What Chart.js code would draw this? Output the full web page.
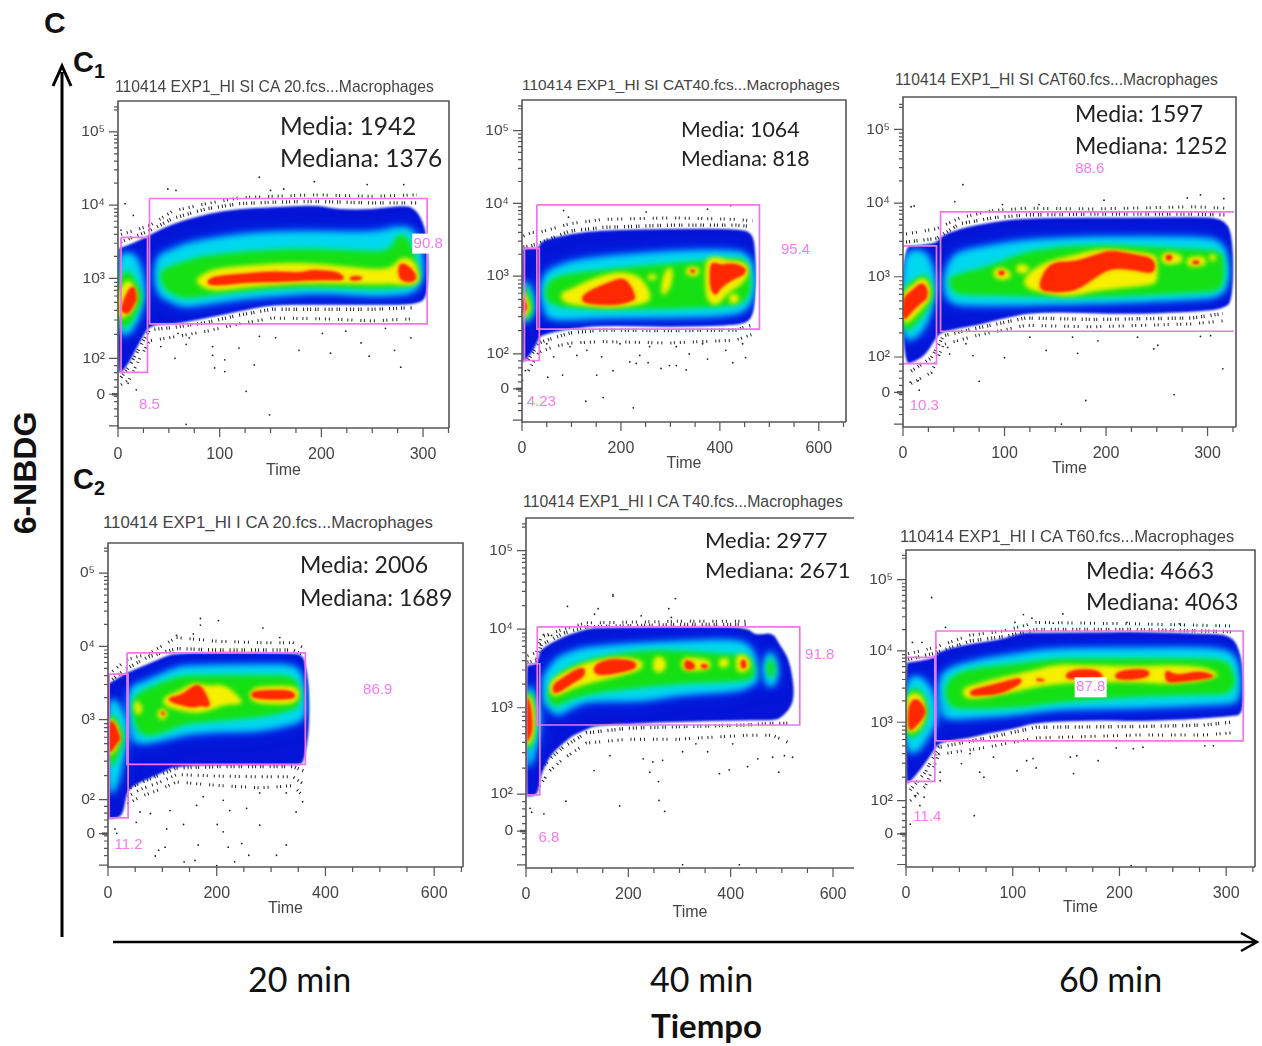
<!DOCTYPE html>
<html>
<head>
<meta charset="utf-8">
<title>6-NBDG</title>
<script src="https://cdn.jsdelivr.net/npm/chart.js@4"></script>
<style>
    html, body { margin: 0; background: #fff; }
    #figure { position: relative; width: 1262px; height: 1046px; overflow: hidden; background: #fff; }
    #figure canvas { position: absolute; filter: blur(0.4px); }
    .note { position: absolute; white-space: nowrap; transform: translateY(-50%); line-height: 1; }
    .plot-title { font-family: "Liberation Sans", Arial, sans-serif; color: #444; }
    .stat { font-family: Lato, sans-serif; color: #222; }
    .head { font-family: "Liberation Sans", Arial, sans-serif; font-weight: bold; color: #111; }
    .time { font-family: Lato, sans-serif; color: #111; }
    sub { font-size: 0.68em; line-height: 0; }
    svg { position: absolute; left: 0; top: 0; }
</style>
</head>
<body>
<div id="figure">
    <svg width="1262" height="1046">
        <path d="M62 937V72M53 86L62 66L71 86" fill="none" stroke="#000" stroke-width="3"/>
        <path d="M113 942H1256M1241 933L1257 942L1241 951" fill="none" stroke="#000" stroke-width="2.5"/>
    </svg>
    <div class="note head" style="left:44px;top:23px;font-size:30px">C</div>
    <div class="note head" style="left:73px;top:62px;font-size:29px">C<sub>1</sub></div>
    <div class="note head" style="left:73px;top:479px;font-size:29px">C<sub>2</sub></div>
    <div class="note head" style="left:25px;top:473px;font-size:32px;transform:translate(-50%,-50%) rotate(-90deg)">6-NBDG</div>
    <div class="note time" style="left:248px;top:979px;font-size:34px">20 min</div>
    <div class="note time" style="left:650px;top:979px;font-size:34px">40 min</div>
    <div class="note time" style="left:1059px;top:979px;font-size:34px">60 min</div>
    <div class="note time" style="left:651px;top:1025px;font-size:33px;font-weight:bold">Tiempo</div>
</div>
<script>
const plotTitles = [
    '110414 EXP1_HI SI CA 20.fcs...Macrophages',
    '110414 EXP1_HI SI CAT40.fcs...Macrophages',
    '110414 EXP1_HI SI CAT60.fcs...Macrophages',
    '110414 EXP1_HI I CA 20.fcs...Macrophages',
    '110414 EXP1_HI I CA T40.fcs...Macrophages',
    '110414 EXP1_HI I CA T60.fcs...Macrophages'
];
const mediaValues = [1942, 1064, 1597, 2006, 2977, 4663];
const medianaValues = [1376, 818, 1252, 1689, 2671, 4063];

const xTicks300 = [0, 100, 200, 300];
const xTicks600 = [0, 200, 400, 600];
const yLabelsFull = ['0', '10²', '10³', '10⁴', '10⁵'];
const yLabelsCut = ['0', '0²', '0³', '0⁴', '0⁵'];

// y values are axis decades: 3 = 10^3, 4 = 10^4, ... the part below 10^3 is biexponential
// density rows: [time, upper edge, lower edge]
const p1YTicks = [1.42, 1.91, 3, 4, 5];
const p1Blue = [[[0,3.41,1.71],[3,3.42,1.71],[11,3.46,1.85],[21,3.52,2.12],[31,3.59,2.37],[54,3.75,2.37],[87,3.88,2.46],[119,3.95,2.55],[152,3.97,2.64],[194,4.0,2.64],[217,3.94,2.64],[250,3.94,2.64],[283,4.0,2.64],[294,3.93,2.66],[302,3.7,2.71],[305,3.38,2.93]]];
const p1Cyan = [
    [[37,3.3,2.8],[54,3.38,2.68],[64,3.45,2.62],[87,3.52,2.66],[119,3.59,2.73],[152,3.62,2.77],[200,3.63,2.82],[250,3.61,2.77],[277,3.7,2.79],[292,3.66,2.82],[299,3.3,3.0]],
    [[0,3.3,2.3],[8,3.35,2.2],[18,3.3,2.4],[25,3.0,2.7]]
];
const p1Green = [
    [[42,3.08,3.0],[46,3.14,2.84],[64,3.22,2.73],[80,3.29,2.75],[119,3.36,2.83],[185,3.41,2.9],[250,3.36,2.86],[268,3.38,2.87],[275,3.61,2.88],[286,3.57,2.89],[296,3.07,2.98]],
    [[0,3.0,2.35],[10,3.13,2.33],[18,2.95,2.55],[23,2.78,2.7]]
];
const p1Yellow = [
    [[78,3.0,2.93],[93,3.12,2.83],[130,3.17,2.9],[185,3.21,2.95],[250,3.11,2.93],[270,3.13,2.94],[278,3.28,2.92],[290,3.25,2.92],[295,3.08,2.96]],
    [[0,2.8,2.45],[10,3.0,2.5],[17,2.85,2.65]]
];
const p1Red = [
    [[88,2.97,2.93],[95,3.03,2.9],[130,3.07,2.95],[155,3.1,2.95],[180,3.07,2.97],[190,3.12,2.98],[215,3.09,2.98],[222,3.03,2.98]],
    [[228,3.03,2.97],[240,3.03,2.98]],
    [[276,3.2,3.0],[283,3.2,2.95],[293,3.07,2.96]],
    [[3,2.6,2.55],[10,2.85,2.5],[16,2.9,2.65],[18,2.78,2.7]]
];
const p1FringeTop = [[3,3.5,3.6],[31,3.65,3.72],[54,3.82,3.92],[87,3.95,4.02],[119,4.02,4.1],[152,4.04,4.12],[194,4.05,4.14],[250,4.03,4.12],[294,4.03,4.14]];
const p1FringeLow = [[3,1.65,1.55],[11,1.8,1.62],[21,2.05,1.9],[31,2.3,2.15],[54,2.33,2.2],[87,2.4,2.28],[119,2.5,2.38],[152,2.58,2.46],[200,2.58,2.45],[250,2.58,2.42],[290,2.6,2.45]];
const p1Dots = [[139,4.38],[193,4.32],[245,4.28],[281,4.28],[49,4.22],[57,4.2],[7,4.02],[150,4.2],[163,4.22],[15,3.86],[3,3.66],[139,2.21],[155,2.19],[201,2.25],[224,2.28],[178,2.02],[209,1.98],[247,1.94],[272,2.02],[278,1.79],[288,2.19],[239,2.12],[93,1.95],[105,1.89],[95,1.78],[105,1.73],[119,2.05],[134,1.82],[126,1.46],[149,1.14],[67,1.01],[56,1.91],[42,2.07],[67,2.1],[93,2.07],[59,2.25],[70,2.19],[18,1.48],[10,1.57],[263,2.32]];
const p1Gates = [[[31,4.09],[304,4.09],[304,2.38],[31,2.38],[31,4.09]], [[3,3.56],[29,3.56],[29,1.72],[3,1.72],[3,3.56]]];
const p1GateLabels = [[305,3.475,'90.8',true],[31,1.28,'8.5',false]];

const p2YTicks = [1.45, 1.93, 3, 4, 5];
const p2Blue = [[[0,3.37,1.82],[3,3.375,1.82],[13,3.38,1.89],[23,3.385,1.98],[34,3.39,2.14],[40,3.49,2.19],[97,3.58,2.28],[164,3.63,2.32],[298,3.65,2.3],[432,3.65,2.32],[466,3.6,2.39],[472,3.35,2.76]]];
const p2Cyan = [
    [[40,2.9,2.7],[50,3.05,2.44],[64,3.1,2.42],[97,3.19,2.41],[164,3.26,2.44],[298,3.33,2.44],[432,3.35,2.47],[462,3.26,2.6],[469,2.99,2.9]],
    [[0,2.95,2.35],[12,2.9,2.38],[22,2.72,2.5]]
];
const p2Green = [
    [[48,2.85,2.7],[64,2.98,2.6],[97,3.03,2.57],[164,3.08,2.55],[298,3.17,2.55],[432,3.24,2.6],[452,3.22,2.67],[462,2.94,2.8]],
    [[0,2.9,2.38],[12,2.8,2.42],[20,2.6,2.55]]
];
const p2Yellow = [
    [[80,2.77,2.68],[97,2.8,2.62],[130,2.92,2.6],[164,3.0,2.58],[198,3.05,2.58],[235,3.0,2.62],[252,2.85,2.65],[258,2.75,2.68]],
    [[255,3.0,2.96],[262,3.03,2.95],[272,3.0,2.97]],
    [[283,2.92,2.72],[295,3.12,2.8],[303,3.1,2.95]],
    [[332,3.1,3.03],[348,3.12,3.0],[358,3.1,3.04]],
    [[372,3.2,2.75],[382,3.25,2.62],[397,3.25,2.62],[415,3.2,2.78],[436,3.2,2.85],[456,3.15,3.0]],
    [[420,2.75,2.65],[428,2.75,2.62],[438,2.72,2.67]],
    [[0,2.8,2.42],[8,2.72,2.46],[14,2.58,2.54]]
];
const p2Red = [
    [[122,2.72,2.65],[137,2.8,2.62],[178,2.92,2.6],[205,2.98,2.62],[222,2.85,2.66],[228,2.72,2.68]],
    [[380,3.18,2.82],[392,3.18,2.72],[402,3.15,2.85],[425,3.18,2.95],[452,3.12,3.03]],
    [[340,3.09,3.05],[350,3.09,3.04]],
    [[0,2.71,2.48],[5,2.68,2.5],[10,2.58,2.56]]
];
const p2FringeTop = [[3,3.4,3.55],[20,3.42,3.6],[34,3.45,3.6],[97,3.62,3.72],[164,3.67,3.78],[298,3.7,3.8],[432,3.7,3.78],[466,3.68,3.76]];
const p2FringeLow = [[13,1.85,1.7],[34,2.08,1.95],[60,2.14,2.02],[97,2.22,2.08],[164,2.26,2.1],[298,2.25,2.08],[432,2.26,2.12],[466,2.33,2.2]];
const p2Dots = [[84,3.9],[94,3.81],[422,3.97],[375,3.92],[251,3.88],[52,1.61],[82,1.64],[129,1.28],[164,1.33],[225,1.19],[218,1.82],[231,1.8],[255,1.81],[281,1.73],[298,1.77],[312,1.77],[332,1.71],[184,1.7],[151,1.64],[161,1.89],[111,1.91],[64,1.89],[375,1.86],[426,1.81],[452,1.88],[412,1.98],[338,1.93],[258,2.03],[198,2.07],[131,1.98],[97,2.03],[50,2.07],[312,2.03],[365,2.07],[446,2.07],[238,1.91],[1,1.57],[7,1.7]];
const p2Gates = [[[30,3.98],[480,3.98],[480,2.27],[30,2.27],[30,3.98]], [[5,3.38],[35,3.38],[35,1.84],[5,1.84],[5,3.38]]];
const p2GateLabels = [[553,3.36,'95.4',false],[39,1.27,'4.23',false]];

const p3YTicks = [1.43, 1.91, 3, 4, 5];
const p3Blue = [[[0,3.41,1.79],[13,3.42,1.86],[23,3.44,1.95],[33,3.46,2.18],[38,3.56,2.25],[56,3.65,2.3],[72,3.7,2.34],[89,3.74,2.4],[105,3.77,2.45],[121,3.79,2.5],[154,3.8,2.52],[220,3.8,2.49],[285,3.81,2.52],[315,3.8,2.56],[325,3.58,2.67]]];
const p3Cyan = [
    [[41,3.05,2.75],[49,3.26,2.65],[56,3.33,2.63],[89,3.42,2.62],[121,3.49,2.63],[187,3.53,2.65],[285,3.53,2.7],[315,3.49,2.74],[320,3.13,3.0]],
    [[0,3.3,2.1],[15,3.37,2.2],[25,3.28,2.42],[31,3.0,2.8]]
];
const p3Green = [
    [[46,3.0,2.88],[51,3.0,2.79],[56,3.04,2.76],[89,3.15,2.75],[121,3.35,2.74],[187,3.44,2.72],[285,3.37,2.79],[313,3.35,2.81],[316,3.22,3.0]],
    [[0,2.85,2.22],[12,2.95,2.35],[22,3.05,2.52],[29,2.85,2.72]]
];
const p3Yellow = [
    [[90,3.1,3.0],[98,3.12,2.96],[106,3.05,3.0]],
    [[112,3.14,3.07],[118,3.17,3.05],[124,3.12,3.08]],
    [[120,3.0,2.86],[141,3.2,2.78],[165,3.27,2.74],[187,3.35,2.81],[203,3.37,2.84],[246,3.3,2.9],[250,3.25,2.95]],
    [[255,3.3,3.2],[262,3.33,3.17],[275,3.28,3.2]],
    [[280,3.25,3.15],[290,3.27,3.15],[298,3.25,3.17]],
    [[302,3.3,3.22],[308,3.3,3.22]],
    [[0,2.78,2.33],[10,2.88,2.45],[20,3.0,2.6],[26,2.88,2.7]]
];
const p3Red = [
    [[135,2.95,2.82],[145,3.2,2.79],[170,3.2,2.8],[190,3.3,3.0],[205,3.36,3.12],[228,3.3,3.1],[248,3.25,3.03]],
    [[285,3.22,3.17],[292,3.22,3.17]],
    [[259,3.3,3.22],[265,3.3,3.22]],
    [[94,3.08,3.02],[100,3.08,3.02]],
    [[0,2.72,2.38],[8,2.8,2.52],[18,2.93,2.65],[24,2.85,2.7]]
];
const p3FringeTop = [[3,3.47,3.58],[33,3.52,3.65],[56,3.72,3.8],[89,3.8,3.9],[121,3.84,3.93],[187,3.85,3.92],[285,3.85,3.95],[318,3.84,3.93]];
const p3FringeLow = [[8,1.72,1.55],[28,1.9,1.7],[40,2.2,2.08],[72,2.3,2.2],[121,2.44,2.34],[187,2.42,2.32],[285,2.44,2.36],[315,2.5,2.4]];
const p3Dots = [[59,4.25],[51,4.02],[11,3.96],[8,3.95],[198,4.04],[293,4.11],[316,4.06],[280,4.07],[98,3.98],[134,3.98],[100,1.9],[141,2.0],[172,1.96],[247,2.02],[251,2.07],[315,1.75],[267,1.4],[180,1.32],[75,1.58],[156,1.0],[69,1.93],[46,1.95],[44,2.04],[62,2.09],[192,2.13],[167,2.18],[231,2.18],[293,2.19],[303,2.2],[125,2.18],[16,1.46],[7,1.57],[15,1.59]];
const p3Gates = [[[326,3.88],[37,3.88],[37,2.26],[326,2.26]], [[0,3.42],[33,3.42],[33,1.82],[0,1.82]]];
const p3GateLabels = [[184,4.47,'88.6',false],[21,1.25,'10.3',false]];

const p4YTicks = [1.445, 1.91, 3, 4, 5];
const p4Blue = [[[0,3.5,1.65],[4,3.5,1.65],[26,3.6,1.67],[32,3.63,1.9],[38,3.65,2.08],[96,3.83,2.26],[126,3.92,2.38],[340,3.91,2.38],[356,3.88,2.38],[362,3.81,2.49],[370,3.45,2.85]]];
const p4Cyan = [
    [[38,3.3,2.85],[44,3.45,2.72],[65,3.5,2.67],[126,3.7,2.78],[145,3.72,2.81],[206,3.73,2.85],[279,3.74,2.85],[340,3.74,2.95],[356,3.63,2.99],[362,3.26,3.1]],
    [[0,3.25,1.95],[14,3.28,2.05],[26,3.1,2.4],[34,2.95,2.8]]
];
const p4Green = [
    [[46,3.25,3.08],[53,3.35,2.85],[78,3.44,2.76],[126,3.58,2.9],[145,3.6,2.95],[206,3.6,2.99],[279,3.6,3.04],[340,3.6,3.13],[352,3.45,3.2]],
    [[0,3.05,2.35],[12,3.06,2.4],[22,2.9,2.6],[28,2.8,2.7]]
];
const p4Yellow = [
    [[50,3.25,3.1],[56,3.25,3.07],[62,3.15,3.12]],
    [[93,3.12,3.03],[100,3.15,3.0],[108,3.1,3.05]],
    [[103,3.3,3.2],[130,3.37,3.14],[157,3.5,3.1],[180,3.45,3.12],[215,3.47,3.22],[240,3.3,3.22],[245,3.25,3.22]],
    [[262,3.42,3.25],[300,3.45,3.22],[340,3.45,3.22],[350,3.4,3.3]],
    [[0,3.0,2.5],[10,3.0,2.55],[20,2.82,2.7]]
];
const p4Red = [
    [[112,3.3,3.25],[135,3.33,3.2],[158,3.47,3.16],[170,3.47,3.2],[180,3.35,3.17],[187,3.22,3.19]],
    [[264,3.38,3.3],[290,3.4,3.28],[330,3.4,3.28],[344,3.36,3.3]],
    [[98,3.12,3.07],[104,3.1,3.05]],
    [[1,2.98,2.52],[10,2.98,2.6],[18,2.85,2.7],[22,2.75,2.72]]
];
const p4FringeTop = [[8,3.55,3.66],[35,3.7,3.82],[75,3.86,3.9],[126,3.97,4.12],[200,3.95,4.07],[280,3.95,4.05],[340,3.95,4.05],[360,3.88,3.98]];
const p4FringeLow = [[36,2.05,1.85,1.95],[60,2.14,1.95,2.05],[96,2.25,2.05,2.15],[126,2.34,2.15,2.25],[206,2.36,2.1,2.23],[280,2.36,2.07,2.22],[340,2.36,2.1,2.22],[360,2.3,1.95,2.12]];
const p4Dots = [[170,4.38],[170,4.29],[203,4.35],[285,4.25],[316,4.12],[126,4.15],[157,4.17],[52,1.6],[108,1.51],[139,1.57],[201,1.57],[212,1.47],[279,1.56],[93,1.22],[87,1.14],[105,1.26],[140,1.06],[160,1.08],[166,1.29],[221,1.26],[233,1.06],[246,1.31],[259,1.15],[310,1.15],[328,1.29],[200,1.01],[13,1.51],[16,1.45],[114,1.76],[163,1.83],[224,1.76],[255,1.79],[346,1.74],[358,1.88],[59,1.74],[78,1.72],[175,1.95],[279,2.0],[328,2.0],[212,1.9]];
const p4Gates = [[[35,3.91],[363,3.91],[363,2.39],[35,2.39],[35,3.91]], [[2,3.62],[37,3.62],[37,1.66],[2,1.66],[2,3.62]]];
const p4GateLabels = [[496,3.4,'86.9',false],[38,1.29,'11.2',false]];

const p5YTicks = [1.43, 1.9, 3, 4, 5];
const p5Blue = [[[0,3.53,1.87],[5,3.54,1.87],[22,3.56,1.89],[27,3.71,2.05],[30,3.74,2.16],[47,3.82,2.39],[73,3.9,2.55],[92,3.95,2.65],[118,4.0,2.72],[138,4.02,2.78],[300,4.03,2.82],[430,4.03,2.84],[449,3.92,2.84],[482,3.96,2.84],[495,3.81,2.86],[514,3.62,2.97],[523,3.3,3.1]]];
const p5Cyan = [
    [[34,3.35,3.09],[37,3.42,3.05],[60,3.62,2.9],[73,3.66,2.95],[105,3.74,3.07],[138,3.77,3.1],[230,3.81,3.09],[300,3.83,3.18],[417,3.86,3.22],[446,3.73,3.31],[452,3.39,3.35]],
    [[466,3.6,3.35],[479,3.75,3.24],[490,3.55,3.35]],
    [[0,3.3,2.2],[12,3.25,2.3],[22,3.05,2.6],[26,2.95,2.8]]
];
const p5Green = [
    [[44,3.2,3.12],[50,3.26,3.05],[60,3.4,3.01],[79,3.5,3.1],[138,3.64,3.2],[235,3.73,3.27],[300,3.72,3.31],[417,3.67,3.34],[440,3.64,3.37],[446,3.47,3.42]],
    [[472,3.6,3.42],[479,3.62,3.38],[486,3.55,3.42]],
    [[0,3.22,2.45],[10,3.18,2.5],[18,3.0,2.7]]
];
const p5Yellow = [
    [[48,3.3,3.2],[56,3.37,3.14],[92,3.5,3.26],[138,3.6,3.35],[183,3.64,3.41],[228,3.6,3.5]],
    [[250,3.63,3.47],[262,3.65,3.45],[272,3.6,3.5]],
    [[305,3.64,3.48],[330,3.62,3.48],[360,3.6,3.5]],
    [[378,3.62,3.52],[395,3.63,3.52]],
    [[412,3.67,3.46],[425,3.67,3.46],[437,3.6,3.5]],
    [[0,3.17,2.5],[8,3.15,2.55],[15,2.95,2.7]]
];
const p5Red = [
    [[53,3.3,3.18],[66,3.35,3.2],[92,3.47,3.32],[115,3.52,3.4]],
    [[133,3.55,3.42],[165,3.62,3.42],[195,3.61,3.47],[215,3.58,3.5]],
    [[310,3.6,3.5],[320,3.6,3.48],[330,3.55,3.5]],
    [[342,3.56,3.5],[355,3.55,3.5]],
    [[420,3.62,3.5],[430,3.6,3.5]],
    [[1,3.14,2.55],[6,3.12,2.6],[12,2.9,2.7]]
];
const p5FringeTop = [[3,3.58,3.66],[20,3.6,3.7],[30,3.8,3.9],[73,3.95,4.0],[118,4.03,4.08],[300,4.06,4.1],[430,4.06,4.1]];
const p5FringeLow = [[26,2.2,2.0],[47,2.35,2.2],[73,2.5,2.35],[118,2.68,2.55],[200,2.74,2.6],[300,2.76,2.6],[430,2.78,2.65],[482,2.8,2.65],[515,2.8,2.55]];
const p5Dots = [[170,4.42],[170,4.44],[292,4.39],[81,4.29],[141,4.26],[134,4.19],[279,4.26],[284,4.15],[225,4.17],[34,3.93],[44,3.92],[50,3.92],[78,1.81],[183,1.75],[260,1.82],[271,1.68],[259,2.06],[242,2.18],[133,2.2],[164,2.39],[378,2.16],[397,2.21],[433,2.25],[494,2.18],[453,2.35],[482,2.37],[521,2.37],[505,2.39],[306,2.44],[355,2.44],[267,2.33],[248,2.31],[229,2.35],[8,1.72],[11,1.67],[35,1.65],[306,1.0],[417,1.0],[404,2.54],[332,2.54]];
const p5Gates = [[[22,4.03],[535,4.03],[535,2.78],[22,2.78],[22,4.03]], [[1,3.56],[27,3.56],[27,1.89],[1,1.89],[1,3.56]]];
const p5GateLabels = [[574,3.67,'91.8',false],[45,1.35,'6.8',false]];

const p6YTicks = [1.435, 1.9, 3, 4, 5];
const p6Blue = [[[0,3.83,2.14],[2,3.84,2.14],[13,3.86,2.32],[26,3.9,2.6],[31,4.0,2.72],[60,4.1,2.78],[76,4.13,2.84],[91,4.17,2.88],[107,4.25,2.93],[122,4.26,3.0],[185,4.26,3.03],[216,4.27,3.01],[278,4.24,3.05],[305,4.23,3.09],[314,3.96,3.1],[316,3.5,3.3]]];
const p6Cyan = [
    [[31,3.5,3.2],[35,3.72,3.05],[60,3.84,3.07],[107,3.96,3.12],[138,4.02,3.2],[216,4.03,3.21],[297,4.03,3.27],[309,3.91,3.28],[312,3.63,3.4]],
    [[0,3.6,2.55],[12,3.65,2.6],[22,3.5,2.85],[28,3.25,3.0]]
];
const p6Green = [
    [[37,3.45,3.4],[41,3.63,3.21],[60,3.75,3.19],[107,3.82,3.21],[138,3.89,3.28],[216,3.89,3.37],[278,3.89,3.39],[303,3.86,3.4],[308,3.6,3.55]],
    [[0,3.4,2.78],[10,3.5,2.8],[18,3.35,3.0],[20,3.2,3.1]]
];
const p6Yellow = [
    [[54,3.47,3.38],[60,3.5,3.33],[91,3.63,3.4],[122,3.72,3.51],[141,3.8,3.55],[166,3.79,3.57],[216,3.77,3.58],[247,3.79,3.54],[278,3.77,3.6],[292,3.68,3.65]],
    [[0,3.35,2.85],[10,3.42,2.88],[17,3.3,3.02]]
];
const p6Red = [
    [[60,3.45,3.37],[75,3.5,3.38],[88,3.55,3.4],[100,3.6,3.48],[108,3.62,3.55]],
    [[122,3.62,3.58],[130,3.6,3.57]],
    [[150,3.7,3.6],[165,3.75,3.62],[180,3.72,3.62],[184,3.66,3.63]],
    [[196,3.7,3.6],[216,3.75,3.6],[228,3.72,3.65]],
    [[243,3.75,3.56],[252,3.65,3.56],[275,3.72,3.6],[288,3.66,3.63]],
    [[2,3.25,2.85],[10,3.35,2.95],[18,3.2,3.1]]
];
const p6FringeTop = [[2,3.88,3.96],[27,3.97,4.05],[60,4.14,4.22],[91,4.2,4.28],[122,4.3,4.4],[216,4.3,4.38],[278,4.28,4.36],[305,4.27,4.35]];
const p6FringeLow = [[4,2.05,1.9],[18,2.3,2.1],[31,2.65,2.55],[76,2.78,2.65],[122,2.93,2.78],[216,2.94,2.82],[278,2.96,2.82],[305,3.0,2.85]];
const p6Dots = [[24,4.75],[110,4.51],[118,4.46],[102,4.4],[147,4.52],[207,4.4],[256,4.38],[138,4.39],[37,4.33],[6,4.12],[15,4.12],[157,2.28],[180,2.46],[73,2.23],[69,2.3],[122,2.36],[113,2.46],[104,2.32],[82,2.51],[52,2.42],[60,2.56],[32,2.3],[32,2.18],[9,1.97],[17,1.95],[13,1.83],[4,1.57],[64,1.69],[211,0.99],[213,2.63],[197,2.64],[222,2.65],[280,2.67],[288,2.67],[154,2.51],[160,2.53],[119,2.49]];
const p6Gates = [[[28,4.28],[316,4.28],[316,2.74],[28,2.74],[28,4.28]], [[0,3.91],[27,3.91],[27,2.17],[0,2.17]]];
const p6GateLabels = [[173,3.49,'87.8',true],[20,1.67,'11.4',false]];

const GATE_COLOR = '#ee76ea';
const AXIS_COLOR = '#555';
const LEFT_ROOM = 50;
const LOG_STEPS = [0.3, 0.48, 0.6, 0.7, 0.78, 0.85, 0.9, 0.95];

// each density level is painted in passes [colour, blur px], wide soft pass first
const LEVEL_PASSES = {
    blue: [['#0414d8', 0.8]],
    cyan: [['#0040f8', 9], ['#0090ff', 5], ['#00d8f0', 3]],
    green: [['#00e8a0', 4], ['#14e014', 2.5]],
    yellow: [['#a0f000', 3], ['#f6f000', 2]],
    red: [['#ff7800', 2.5], ['#ff2800', 1]]
};
// irregular gaps so the fringe of events reads as specks, not as a comb
const FRINGE_STYLES = [
    { borderWidth: 3.4, borderDash: [1, 2, 1, 4, 1, 1.5, 1, 6, 1, 3] },
    { borderWidth: 3, borderDash: [1, 5, 1, 3, 1, 8, 1, 2.5] },
    { borderWidth: 3, borderDash: [1, 3, 1, 6, 1, 4] }
];

const panels = [
    { left: 118, right: 450, top: 100, bottom: 428, xMax: 325.5, timeOffset: 42, xTicks: xTicks300, xStep: 25, yTop: 5.42, yBottom: 0.96, yTicks: p1YTicks, yLabels: yLabelsFull, blue: p1Blue, cyan: p1Cyan, green: p1Green, yellow: p1Yellow, red: p1Red, fringeTop: p1FringeTop, fringeLow: p1FringeLow, dots: p1Dots, gates: p1Gates, gateLabels: p1GateLabels,
      titleX: 115, titleY: 87, titleSize: 15.7, statX: 280, statY: [126, 158], statSize: 24.5 },
    { left: 522, right: 847, top: 99, bottom: 422, xMax: 655, timeOffset: 41, xTicks: xTicks600, xStep: 50, yTop: 5.42, yBottom: 0.995, yTicks: p2YTicks, yLabels: yLabelsFull, blue: p2Blue, cyan: p2Cyan, green: p2Green, yellow: p2Yellow, red: p2Red, fringeTop: p2FringeTop, fringeLow: p2FringeLow, dots: p2Dots, gates: p2Gates, gateLabels: p2GateLabels,
      titleX: 522, titleY: 85, titleSize: 15.4, statX: 681, statY: [130, 159], statSize: 21.3 },
    { left: 903, right: 1237, top: 96, bottom: 427, xMax: 328, timeOffset: 41, xTicks: xTicks300, xStep: 25, yTop: 5.44, yBottom: 0.96, yTicks: p3YTicks, yLabels: yLabelsFull, blue: p3Blue, cyan: p3Cyan, green: p3Green, yellow: p3Yellow, red: p3Red, fringeTop: p3FringeTop, fringeLow: p3FringeLow, dots: p3Dots, gates: p3Gates, gateLabels: p3GateLabels,
      titleX: 895, titleY: 80, titleSize: 15.65, statX: 1075, statY: [113, 145], statSize: 23 },
    { left: 108, right: 464, top: 542, bottom: 867, xMax: 653, timeOffset: 41, xTicks: xTicks600, xStep: 50, yTop: 5.41, yBottom: 0.99, yTicks: p4YTicks, yLabels: yLabelsCut, blue: p4Blue, cyan: p4Cyan, green: p4Green, yellow: p4Yellow, red: p4Red, fringeTop: p4FringeTop, fringeLow: p4FringeLow, dots: p4Dots, gates: p4Gates, gateLabels: p4GateLabels,
      titleX: 103, titleY: 523, titleSize: 16.8, statX: 300, statY: [564, 597], statSize: 23 },
    { left: 526, right: 855, top: 517, bottom: 868, xMax: 641, timeOffset: 44, xTicks: xTicks600, xStep: 50, yTop: 5.415, yBottom: 0.96, yTicks: p5YTicks, yLabels: yLabelsFull, openRight: true, blue: p5Blue, cyan: p5Cyan, green: p5Green, yellow: p5Yellow, red: p5Red, fringeTop: p5FringeTop, fringeLow: p5FringeLow, dots: p5Dots, gates: p5Gates, gateLabels: p5GateLabels,
      titleX: 523, titleY: 502, titleSize: 15.8, statX: 705, statY: [540, 570], statSize: 22 },
    { left: 906, right: 1256, top: 549, bottom: 867, xMax: 327, timeOffset: 40, xTicks: xTicks300, xStep: 25, yTop: 5.416, yBottom: 0.97, yTicks: p6YTicks, yLabels: yLabelsFull, blue: p6Blue, cyan: p6Cyan, green: p6Green, yellow: p6Yellow, red: p6Red, fringeTop: p6FringeTop, fringeLow: p6FringeLow, dots: p6Dots, gates: p6Gates, gateLabels: p6GateLabels,
      titleX: 900, titleY: 536, titleSize: 16.5, statX: 1086, statY: [570, 601], statSize: 23 }
];

function rowsToOutline(rows) {
    const upper = rows.map(r => ({ x: r[0], y: r[1] }));
    const lower = rows.slice().reverse().map(r => ({ x: r[0], y: r[2] }));
    return upper.concat(lower);
}

// rounded closed path through the midpoints of the outline
function traceOutline(ctx, pts) {
    const n = pts.length;
    ctx.beginPath();
    ctx.moveTo((pts[n - 1].x + pts[0].x) / 2, (pts[n - 1].y + pts[0].y) / 2);
    pts.forEach((p, i) => {
        const next = pts[(i + 1) % n];
        ctx.quadraticCurveTo(p.x, p.y, (p.x + next.x) / 2, (p.y + next.y) / 2);
    });
    ctx.closePath();
}

// paints the outline of a density dataset, the points come from the chart's scales
const densityPlugin = {
    id: 'density',
    beforeDatasetDraw(chart, args) {
        const dataset = chart.data.datasets[args.index];
        if (!dataset.passes) return;
        const ctx = chart.ctx;
        const area = chart.chartArea;
        ctx.save();
        ctx.beginPath();
        ctx.rect(area.left, area.top, area.right - area.left, area.bottom - area.top);
        ctx.clip();
        if (dataset.insideOf !== undefined) {
            // soft passes stay inside the blue envelope
            traceOutline(ctx, chart.getDatasetMeta(dataset.insideOf).data);
            ctx.clip();
        }
        dataset.passes.forEach(([color, blur]) => {
            ctx.filter = `blur(${blur}px)`;
            ctx.fillStyle = color;
            traceOutline(ctx, args.meta.data);
            ctx.fill();
        });
        ctx.restore();
    }
};

// frame, major and minor ticks, and the percentages next to the gates
const flowAxesPlugin = {
    id: 'flowAxes',
    afterDatasetsDraw(chart) {
        const panel = chart.options.plugins.flowAxes.panel;
        const ctx = chart.ctx;
        ctx.save();
        ctx.font = '15px "Liberation Sans", Arial, sans-serif';
        ctx.textAlign = 'center';
        ctx.textBaseline = 'middle';
        panel.gateLabels.forEach(([t, y, text, boxed]) => {
            const px = chart.scales.x.getPixelForValue(t);
            const py = chart.scales.y.getPixelForValue(y);
            if (boxed) {
                ctx.fillStyle = '#fff';
                ctx.fillRect(px - 16, py - 10, 32, 20);
            }
            ctx.fillStyle = '#f27cf0';
            ctx.fillText(text, px, py);
        });
        ctx.restore();
    },
    afterDraw(chart) {
        const panel = chart.options.plugins.flowAxes.panel;
        const ctx = chart.ctx;
        const { left, right, top, bottom } = chart.chartArea;
        const xs = chart.scales.x;
        const ys = chart.scales.y;
        ctx.save();
        ctx.strokeStyle = AXIS_COLOR;
        ctx.lineWidth = 1.6;
        ctx.beginPath();
        ctx.moveTo(right, bottom);
        ctx.lineTo(left, bottom);
        ctx.lineTo(left, top);
        ctx.lineTo(right, top);
        if (!panel.openRight) ctx.lineTo(right, bottom);
        ctx.stroke();

        const xTick = (v, len) => {
            const p = xs.getPixelForValue(v);
            ctx.moveTo(p, bottom);
            ctx.lineTo(p, bottom + len);
        };
        const yTick = (v, len) => {
            const p = ys.getPixelForValue(v);
            ctx.moveTo(left, p);
            ctx.lineTo(left - len, p);
        };
        ctx.lineWidth = 1.2;
        ctx.beginPath();
        for (let t = 0; t <= panel.xMax; t += panel.xStep) xTick(t, 5);
        panel.xTicks.forEach(t => xTick(t, 9));

        const [zero, hundred] = panel.yTicks;
        LOG_STEPS.forEach(f => {
            yTick(hundred + f * (3 - hundred), 4);
            yTick(3 + f, 4);
            yTick(4 + f, 4);
        });
        [0.3, 0.34].forEach(f => yTick(5 + f, 4));
        [0.2, 0.4, 0.6, 0.8].forEach(f => yTick(zero + f * (hundred - zero), 4));
        [0.03, 0.1, 0.2, 0.3].forEach(f => yTick(zero - f, 4));
        yTick(zero - 0.43, 9);
        panel.yTicks.forEach(v => yTick(v, 9));
        ctx.stroke();

        // heavy tick at zero, as in the reference
        ctx.lineWidth = 2.5;
        ctx.beginPath();
        yTick(zero, 6);
        ctx.stroke();
        ctx.restore();
    }
};

function buildDatasets(panel) {
    const datasets = [];
    const plain = { pointRadius: 0, pointHoverRadius: 0, showLine: false };
    panel.gates.forEach(rect => {
        datasets.push({ data: rect.map(([x, y]) => ({ x, y })), showLine: true, borderColor: GATE_COLOR, borderWidth: 1.7, pointRadius: 0, tension: 0 });
    });
    const levels = ['red', 'yellow', 'green', 'cyan'];
    const inner = levels.reduce((n, level) => n + panel[level].length, 0);
    const blueIndex = datasets.length + inner;
    levels.forEach(level => {
        panel[level].slice().reverse().forEach(rows => {
            datasets.push({ ...plain, data: rowsToOutline(rows), passes: LEVEL_PASSES[level], insideOf: blueIndex });
        });
    });
    panel.blue.forEach(rows => {
        datasets.push({ ...plain, data: rowsToOutline(rows), passes: LEVEL_PASSES.blue });
    });
    datasets.push({ data: panel.dots.map(([x, y]) => ({ x, y })), pointRadius: 0.9, pointBackgroundColor: '#222', pointBorderWidth: 0 });
    [panel.fringeTop, panel.fringeLow].forEach(rows => {
        for (let col = 1; col < rows[0].length; col++) {
            datasets.push({
                ...FRINGE_STYLES[col - 1],
                data: rows.map(r => ({ x: r[0], y: r[col] })),
                showLine: true,
                borderColor: '#222',
                pointRadius: 0
            });
        }
    });
    return datasets;
}

function createPanel(panel, index) {
    const figure = document.getElementById('figure');
    const bottomRoom = panel.timeOffset + 10;
    const canvas = document.createElement('canvas');
    canvas.width = panel.right - panel.left + LEFT_ROOM + 3;
    canvas.height = panel.bottom - panel.top + bottomRoom + 3;
    canvas.style.left = (panel.left - LEFT_ROOM) + 'px';
    canvas.style.top = (panel.top - 3) + 'px';
    figure.appendChild(canvas);

    const addNote = (cls, text, x, y, size) => {
        const note = document.createElement('div');
        note.className = 'note ' + cls;
        note.style.cssText = `left:${x}px;top:${y}px;font-size:${size}px`;
        note.textContent = text;
        figure.appendChild(note);
    };
    addNote('plot-title', plotTitles[index], panel.titleX, panel.titleY, panel.titleSize);
    addNote('stat', 'Media: ' + mediaValues[index], panel.statX, panel.statY[0], panel.statSize);
    addNote('stat', 'Mediana: ' + medianaValues[index], panel.statX, panel.statY[1], panel.statSize);

    new Chart(canvas.getContext('2d'), {
        type: 'scatter',
        data: { datasets: buildDatasets(panel) },
        plugins: [densityPlugin, flowAxesPlugin],
        options: {
            responsive: false,
            animation: false,
            devicePixelRatio: 1,
            layout: { padding: { top: 3, right: 3, left: 0, bottom: 0 } },
            plugins: {
                legend: { display: false },
                tooltip: { enabled: false },
                flowAxes: { panel }
            },
            scales: {
                x: {
                    type: 'linear',
                    min: 0,
                    max: panel.xMax,
                    grid: { display: false, drawTicks: false },
                    border: { display: false },
                    afterBuildTicks: scale => { scale.ticks = panel.xTicks.map(value => ({ value })); },
                    afterFit: scale => {
                        scale.height = bottomRoom;
                        scale.paddingLeft = 0;
                        scale.paddingRight = 0;
                    },
                    ticks: { padding: 17, maxRotation: 0, autoSkip: false, color: '#444', font: { family: '"Liberation Sans", Arial, sans-serif', size: 16 } },
                    title: { display: true, text: 'Time', color: '#444', padding: 0, font: { family: '"Liberation Sans", Arial, sans-serif', size: 16 } }
                },
                y: {
                    type: 'linear',
                    min: panel.yBottom,
                    max: panel.yTop,
                    grid: { display: false, drawTicks: false },
                    border: { display: false },
                    afterBuildTicks: scale => { scale.ticks = panel.yTicks.map(value => ({ value })); },
                    afterFit: scale => {
                        scale.width = LEFT_ROOM;
                        scale.paddingTop = 0;
                        scale.paddingBottom = 0;
                    },
                    ticks: {
                        padding: 13,
                        autoSkip: false,
                        color: '#444',
                        font: { family: '"Liberation Sans", Arial, sans-serif', size: 15.5 },
                        callback: (value, i) => panel.yLabels[i]
                    }
                }
            }
        }
    });
}

panels.forEach(createPanel);
</script>
</body>
</html>
